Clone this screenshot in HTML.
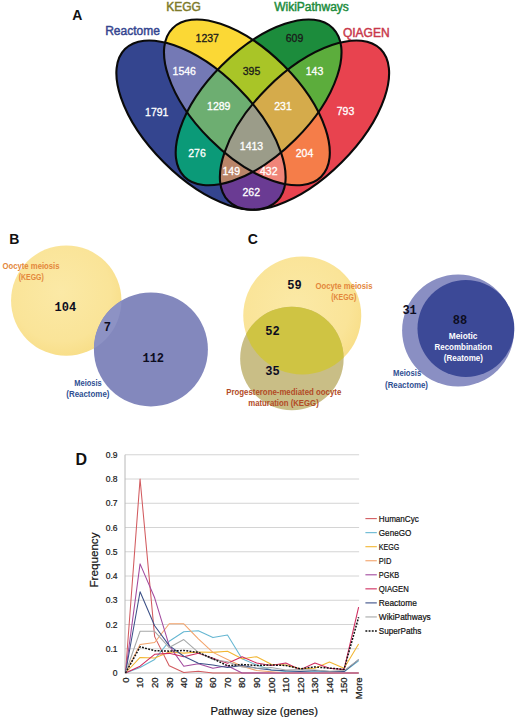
<!DOCTYPE html>
<html lang="en"><head><meta charset="utf-8"><title>Figure</title>
<style>
html,body{margin:0;padding:0;background:#fff;}
body{width:520px;height:720px;overflow:hidden;font-family:"Liberation Sans",sans-serif;}
svg{display:block}
.ss{font-family:"Liberation Sans",sans-serif}
.mono{font-family:"Liberation Mono","DejaVu Sans Mono",monospace;font-weight:bold}
</style></head><body>
<svg width="520" height="720" viewBox="0 0 520 720">
<defs>
<clipPath id="cR"><ellipse cx="201.00" cy="125.1" rx="107.5" ry="52.6" transform="rotate(45 201.00 125.1)" /></clipPath>
<clipPath id="cK"><ellipse cx="246.90" cy="102.4" rx="105" ry="52.2" transform="rotate(45 246.90 102.4)" /></clipPath>
<clipPath id="cW"><ellipse cx="258.60" cy="102.4" rx="105" ry="52.2" transform="rotate(-45 258.60 102.4)" /></clipPath>
<clipPath id="cQ"><ellipse cx="304.50" cy="125.1" rx="107.5" ry="52.6" transform="rotate(-45 304.50 125.1)" /></clipPath>
<radialGradient id="gy" cx="0.45" cy="0.42" r="0.6"><stop offset="0" stop-color="#fbe9a6"/><stop offset="0.75" stop-color="#fae498"/><stop offset="1" stop-color="#f8de88"/></radialGradient>
<clipPath id="cB1"><circle cx="66.25" cy="300.6" r="55.2"/></clipPath>
<clipPath id="cC1"><circle cx="302.25" cy="315.6" r="59"/></clipPath>
</defs>
<rect width="520" height="720" fill="#fff"/>
<g id="panelA">
<ellipse cx="201.00" cy="125.1" rx="107.5" ry="52.6" transform="rotate(45 201.00 125.1)" fill="#34458f"/>
<ellipse cx="246.90" cy="102.4" rx="105" ry="52.2" transform="rotate(45 246.90 102.4)" fill="#fbd835"/>
<ellipse cx="258.60" cy="102.4" rx="105" ry="52.2" transform="rotate(-45 258.60 102.4)" fill="#1c8c3c"/>
<ellipse cx="304.50" cy="125.1" rx="107.5" ry="52.6" transform="rotate(-45 304.50 125.1)" fill="#e8434f"/>
<g clip-path="url(#cR)"><ellipse cx="246.90" cy="102.4" rx="105" ry="52.2" transform="rotate(45 246.90 102.4)" fill="#7479b5"/></g>
<g clip-path="url(#cK)"><ellipse cx="258.60" cy="102.4" rx="105" ry="52.2" transform="rotate(-45 258.60 102.4)" fill="#a9c527"/></g>
<g clip-path="url(#cW)"><ellipse cx="304.50" cy="125.1" rx="107.5" ry="52.6" transform="rotate(-45 304.50 125.1)" fill="#5cad3c"/></g>
<g clip-path="url(#cR)"><ellipse cx="258.60" cy="102.4" rx="105" ry="52.2" transform="rotate(-45 258.60 102.4)" fill="#0b9a78"/></g>
<g clip-path="url(#cK)"><ellipse cx="304.50" cy="125.1" rx="107.5" ry="52.6" transform="rotate(-45 304.50 125.1)" fill="#f57d49"/></g>
<g clip-path="url(#cR)"><ellipse cx="304.50" cy="125.1" rx="107.5" ry="52.6" transform="rotate(-45 304.50 125.1)" fill="#6a3b93"/></g>
<g clip-path="url(#cR)"><g clip-path="url(#cK)"><ellipse cx="258.60" cy="102.4" rx="105" ry="52.2" transform="rotate(-45 258.60 102.4)" fill="#6dae71"/></g></g>
<g clip-path="url(#cK)"><g clip-path="url(#cW)"><ellipse cx="304.50" cy="125.1" rx="107.5" ry="52.6" transform="rotate(-45 304.50 125.1)" fill="#d5ab4b"/></g></g>
<g clip-path="url(#cR)"><g clip-path="url(#cW)"><ellipse cx="304.50" cy="125.1" rx="107.5" ry="52.6" transform="rotate(-45 304.50 125.1)" fill="#b98569"/></g></g>
<g clip-path="url(#cR)"><g clip-path="url(#cK)"><ellipse cx="304.50" cy="125.1" rx="107.5" ry="52.6" transform="rotate(-45 304.50 125.1)" fill="#f08579"/></g></g>
<g clip-path="url(#cR)"><g clip-path="url(#cK)"><g clip-path="url(#cW)"><ellipse cx="304.50" cy="125.1" rx="107.5" ry="52.6" transform="rotate(-45 304.50 125.1)" fill="#9b9c89"/></g></g></g>
<ellipse cx="201.00" cy="125.1" rx="107.5" ry="52.6" transform="rotate(45 201.00 125.1)" fill="none" stroke="#0a0a0a" stroke-width="2.1"/>
<ellipse cx="246.90" cy="102.4" rx="105" ry="52.2" transform="rotate(45 246.90 102.4)" fill="none" stroke="#0a0a0a" stroke-width="2.1"/>
<ellipse cx="258.60" cy="102.4" rx="105" ry="52.2" transform="rotate(-45 258.60 102.4)" fill="none" stroke="#0a0a0a" stroke-width="2.1"/>
<ellipse cx="304.50" cy="125.1" rx="107.5" ry="52.6" transform="rotate(-45 304.50 125.1)" fill="none" stroke="#0a0a0a" stroke-width="2.1"/>
<text class="ss" x="156.75" y="115.55" font-size="10.5" text-anchor="middle" fill="#fff" stroke="#fff" stroke-width="0.3">1791</text>
<text class="ss" x="184.25" y="74.55" font-size="10.5" text-anchor="middle" fill="#fff" stroke="#fff" stroke-width="0.3">1546</text>
<text class="ss" x="207.25" y="42.30" font-size="10.5" text-anchor="middle" fill="#1a1a1a" stroke="#1a1a1a" stroke-width="0.3">1237</text>
<text class="ss" x="251.5" y="74.55" font-size="10.5" text-anchor="middle" fill="#1a1a1a" stroke="#1a1a1a" stroke-width="0.3">395</text>
<text class="ss" x="294.5" y="42.30" font-size="10.5" text-anchor="middle" fill="#1a1a1a" stroke="#1a1a1a" stroke-width="0.3">609</text>
<text class="ss" x="314.5" y="74.55" font-size="10.5" text-anchor="middle" fill="#fff" stroke="#fff" stroke-width="0.3">143</text>
<text class="ss" x="345.5" y="115.05" font-size="10.5" text-anchor="middle" fill="#fff" stroke="#fff" stroke-width="0.3">793</text>
<text class="ss" x="218.75" y="110.05" font-size="10.5" text-anchor="middle" fill="#fff" stroke="#fff" stroke-width="0.3">1289</text>
<text class="ss" x="283" y="110.05" font-size="10.5" text-anchor="middle" fill="#fff" stroke="#fff" stroke-width="0.3">231</text>
<text class="ss" x="251.5" y="149.55" font-size="10.5" text-anchor="middle" fill="#fff" stroke="#fff" stroke-width="0.3">1413</text>
<text class="ss" x="197" y="157.30" font-size="10.5" text-anchor="middle" fill="#fff" stroke="#fff" stroke-width="0.3">276</text>
<text class="ss" x="304.5" y="157.30" font-size="10.5" text-anchor="middle" fill="#fff" stroke="#fff" stroke-width="0.3">204</text>
<text class="ss" x="231.25" y="174.55" font-size="10.5" text-anchor="middle" fill="#fff" stroke="#fff" stroke-width="0.3">149</text>
<text class="ss" x="268.75" y="174.55" font-size="10.5" text-anchor="middle" fill="#fff" stroke="#fff" stroke-width="0.3">432</text>
<text class="ss" x="251.25" y="195.80" font-size="10.5" text-anchor="middle" fill="#fff" stroke="#fff" stroke-width="0.3">262</text>
<text class="ss" x="132.5" y="34.8" font-size="12" text-anchor="middle" fill="#34458f" stroke="#34458f" stroke-width="0.45">Reactome</text>
<text class="ss" x="183.6" y="10.8" font-size="12" text-anchor="middle" fill="#7d7a2a" stroke="#7d7a2a" stroke-width="0.45">KEGG</text>
<text class="ss" x="311.5" y="11.2" font-size="12" text-anchor="middle" fill="#1c8c3c" stroke="#1c8c3c" stroke-width="0.45">WikiPathways</text>
<text class="ss" x="366.25" y="36.6" font-size="12" text-anchor="middle" fill="#c8384a" stroke="#c8384a" stroke-width="0.45">QIAGEN</text>
</g>
<text class="ss" x="72.2" y="20" font-size="14" font-weight="bold" fill="#111">A</text>
<text class="ss" x="9.2" y="243.6" font-size="14" font-weight="bold" fill="#111">B</text>
<text class="ss" x="247.8" y="244.3" font-size="14" font-weight="bold" fill="#111">C</text>
<text class="ss" x="75.4" y="464.6" font-size="16" font-weight="bold" fill="#111">D</text>
<g id="panelB">
<circle cx="66.25" cy="300.6" r="55.2" fill="url(#gy)"/>
<circle cx="150.9" cy="349.4" r="57" fill="#8388bd"/>
<g clip-path="url(#cB1)"><circle cx="150.9" cy="349.4" r="57" fill="#8d92c4"/></g>
<text class="mono" x="65.4" y="310.51" font-size="12" text-anchor="middle" fill="#0d0d1f">104</text>
<text class="mono" x="107.3" y="331.01" font-size="12" text-anchor="middle" fill="#0d0d1f">7</text>
<text class="mono" x="153.25" y="362.26" font-size="12" text-anchor="middle" fill="#0d0d1f">112</text>
<text class="ss" x="2.50" y="268.75" font-size="8.6" font-weight="bold" fill="#e3873b" textLength="57.00" lengthAdjust="spacingAndGlyphs">Oocyte meiosis</text>
<text class="ss" x="18.75" y="280.00" font-size="8.6" font-weight="bold" fill="#e3873b" textLength="25.00" lengthAdjust="spacingAndGlyphs">(KEGG)</text>
<text class="ss" x="74.25" y="386.25" font-size="8.6" font-weight="bold" fill="#2f4f92" textLength="27.50" lengthAdjust="spacingAndGlyphs">Meiosis</text>
<text class="ss" x="66.25" y="396.90" font-size="8.6" font-weight="bold" fill="#2f4f92" textLength="43.25" lengthAdjust="spacingAndGlyphs">(Reactome)</text>
</g>
<g id="panelC">
<circle cx="302.25" cy="315.6" r="59" fill="url(#gy)"/>
<circle cx="291.9" cy="358.4" r="51.75" fill="#c9be86"/>
<g clip-path="url(#cC1)"><circle cx="291.9" cy="358.4" r="51.75" fill="#cfc443"/></g>
<circle cx="458.1" cy="330.6" r="56" fill="#8a8fc3"/>
<circle cx="465.9" cy="328.5" r="48.4" fill="#3c4997"/>
<text class="mono" x="294.4" y="288.96" font-size="12" text-anchor="middle" fill="#0d0d1f">59</text>
<text class="mono" x="272.5" y="335.26" font-size="12" text-anchor="middle" fill="#0d0d1f">52</text>
<text class="mono" x="272.5" y="374.76" font-size="12" text-anchor="middle" fill="#0d0d1f">35</text>
<text class="mono" x="409.6" y="314.26" font-size="12" text-anchor="middle" fill="#0d0d1f">31</text>
<text class="mono" x="460" y="324.26" font-size="12" text-anchor="middle" fill="#0d0d1f">88</text>
<text class="ss" x="315.50" y="288.75" font-size="8.6" font-weight="bold" fill="#e3873b" textLength="57.00" lengthAdjust="spacingAndGlyphs">Oocyte meiosis</text>
<text class="ss" x="331.25" y="299.60" font-size="8.6" font-weight="bold" fill="#e3873b" textLength="25.00" lengthAdjust="spacingAndGlyphs">(KEGG)</text>
<text class="ss" x="226.25" y="395.00" font-size="8.6" font-weight="bold" fill="#b24b26" textLength="115.00" lengthAdjust="spacingAndGlyphs">Progesterone-mediated oocyte</text>
<text class="ss" x="248.25" y="406.25" font-size="8.6" font-weight="bold" fill="#b24b26" textLength="70.50" lengthAdjust="spacingAndGlyphs">maturation (KEGG)</text>
<text class="ss" x="393.00" y="376.25" font-size="8.6" font-weight="bold" fill="#2f4f92" textLength="28.25" lengthAdjust="spacingAndGlyphs">Meiosis</text>
<text class="ss" x="385.00" y="387.50" font-size="8.6" font-weight="bold" fill="#2f4f92" textLength="43.00" lengthAdjust="spacingAndGlyphs">(Reactome)</text>
<text class="ss" x="448.75" y="338.75" font-size="8.6" font-weight="bold" fill="#fff" textLength="28.75" lengthAdjust="spacingAndGlyphs">Meiotic</text>
<text class="ss" x="434.50" y="350.00" font-size="8.6" font-weight="bold" fill="#fff" textLength="57.50" lengthAdjust="spacingAndGlyphs">Recombination</text>
<text class="ss" x="443.75" y="360.60" font-size="8.6" font-weight="bold" fill="#fff" textLength="39.25" lengthAdjust="spacingAndGlyphs">(Reatome)</text>
</g>
<g id="panelD">
<line x1="125.0" x2="359.1" y1="648.75" y2="648.75" stroke="#d4d4d4" stroke-width="1"/>
<line x1="125.0" x2="359.1" y1="624.50" y2="624.50" stroke="#d4d4d4" stroke-width="1"/>
<line x1="125.0" x2="359.1" y1="600.25" y2="600.25" stroke="#d4d4d4" stroke-width="1"/>
<line x1="125.0" x2="359.1" y1="576.00" y2="576.00" stroke="#d4d4d4" stroke-width="1"/>
<line x1="125.0" x2="359.1" y1="551.75" y2="551.75" stroke="#d4d4d4" stroke-width="1"/>
<line x1="125.0" x2="359.1" y1="527.50" y2="527.50" stroke="#d4d4d4" stroke-width="1"/>
<line x1="125.0" x2="359.1" y1="503.25" y2="503.25" stroke="#d4d4d4" stroke-width="1"/>
<line x1="125.0" x2="359.1" y1="479.00" y2="479.00" stroke="#d4d4d4" stroke-width="1"/>
<line x1="125.0" x2="359.1" y1="454.75" y2="454.75" stroke="#d4d4d4" stroke-width="1"/>
<line x1="125.0" x2="125.0" y1="454.75" y2="673.5" stroke="#b8b8b8" stroke-width="1"/>
<line x1="125.0" x2="359.1" y1="673.0" y2="673.0" stroke="#b8b8b8" stroke-width="1"/>
<text class="ss" x="117.6" y="676.10" font-size="8.5" text-anchor="end" fill="#1a1a1a" stroke="#1a1a1a" stroke-width="0.2">0</text>
<text class="ss" x="117.6" y="651.85" font-size="8.5" text-anchor="end" fill="#1a1a1a" stroke="#1a1a1a" stroke-width="0.2">0.1</text>
<text class="ss" x="117.6" y="627.60" font-size="8.5" text-anchor="end" fill="#1a1a1a" stroke="#1a1a1a" stroke-width="0.2">0.2</text>
<text class="ss" x="117.6" y="603.35" font-size="8.5" text-anchor="end" fill="#1a1a1a" stroke="#1a1a1a" stroke-width="0.2">0.3</text>
<text class="ss" x="117.6" y="579.10" font-size="8.5" text-anchor="end" fill="#1a1a1a" stroke="#1a1a1a" stroke-width="0.2">0.4</text>
<text class="ss" x="117.6" y="554.85" font-size="8.5" text-anchor="end" fill="#1a1a1a" stroke="#1a1a1a" stroke-width="0.2">0.5</text>
<text class="ss" x="117.6" y="530.60" font-size="8.5" text-anchor="end" fill="#1a1a1a" stroke="#1a1a1a" stroke-width="0.2">0.6</text>
<text class="ss" x="117.6" y="506.35" font-size="8.5" text-anchor="end" fill="#1a1a1a" stroke="#1a1a1a" stroke-width="0.2">0.7</text>
<text class="ss" x="117.6" y="482.10" font-size="8.5" text-anchor="end" fill="#1a1a1a" stroke="#1a1a1a" stroke-width="0.2">0.8</text>
<text class="ss" x="117.6" y="457.85" font-size="8.5" text-anchor="end" fill="#1a1a1a" stroke="#1a1a1a" stroke-width="0.2">0.9</text>
<text class="ss" transform="translate(128.90 677.3) rotate(-90)" font-size="9.6" text-anchor="end" fill="#1a1a1a" stroke="#1a1a1a" stroke-width="0.25">0</text>
<text class="ss" transform="translate(143.47 677.3) rotate(-90)" font-size="9.6" text-anchor="end" fill="#1a1a1a" stroke="#1a1a1a" stroke-width="0.25">10</text>
<text class="ss" transform="translate(158.04 677.3) rotate(-90)" font-size="9.6" text-anchor="end" fill="#1a1a1a" stroke="#1a1a1a" stroke-width="0.25">20</text>
<text class="ss" transform="translate(172.61 677.3) rotate(-90)" font-size="9.6" text-anchor="end" fill="#1a1a1a" stroke="#1a1a1a" stroke-width="0.25">30</text>
<text class="ss" transform="translate(187.18 677.3) rotate(-90)" font-size="9.6" text-anchor="end" fill="#1a1a1a" stroke="#1a1a1a" stroke-width="0.25">40</text>
<text class="ss" transform="translate(201.75 677.3) rotate(-90)" font-size="9.6" text-anchor="end" fill="#1a1a1a" stroke="#1a1a1a" stroke-width="0.25">50</text>
<text class="ss" transform="translate(216.32 677.3) rotate(-90)" font-size="9.6" text-anchor="end" fill="#1a1a1a" stroke="#1a1a1a" stroke-width="0.25">60</text>
<text class="ss" transform="translate(230.89 677.3) rotate(-90)" font-size="9.6" text-anchor="end" fill="#1a1a1a" stroke="#1a1a1a" stroke-width="0.25">70</text>
<text class="ss" transform="translate(245.46 677.3) rotate(-90)" font-size="9.6" text-anchor="end" fill="#1a1a1a" stroke="#1a1a1a" stroke-width="0.25">80</text>
<text class="ss" transform="translate(260.03 677.3) rotate(-90)" font-size="9.6" text-anchor="end" fill="#1a1a1a" stroke="#1a1a1a" stroke-width="0.25">90</text>
<text class="ss" transform="translate(274.60 677.3) rotate(-90)" font-size="9.6" text-anchor="end" fill="#1a1a1a" stroke="#1a1a1a" stroke-width="0.25">100</text>
<text class="ss" transform="translate(289.17 677.3) rotate(-90)" font-size="9.6" text-anchor="end" fill="#1a1a1a" stroke="#1a1a1a" stroke-width="0.25">110</text>
<text class="ss" transform="translate(303.74 677.3) rotate(-90)" font-size="9.6" text-anchor="end" fill="#1a1a1a" stroke="#1a1a1a" stroke-width="0.25">120</text>
<text class="ss" transform="translate(318.31 677.3) rotate(-90)" font-size="9.6" text-anchor="end" fill="#1a1a1a" stroke="#1a1a1a" stroke-width="0.25">130</text>
<text class="ss" transform="translate(332.88 677.3) rotate(-90)" font-size="9.6" text-anchor="end" fill="#1a1a1a" stroke="#1a1a1a" stroke-width="0.25">140</text>
<text class="ss" transform="translate(347.45 677.3) rotate(-90)" font-size="9.6" text-anchor="end" fill="#1a1a1a" stroke="#1a1a1a" stroke-width="0.25">150</text>
<text class="ss" transform="translate(362.02 677.3) rotate(-90)" font-size="9.6" text-anchor="end" fill="#1a1a1a" stroke="#1a1a1a" stroke-width="0.25">More</text>
<text class="ss" transform="translate(97.6 560) rotate(-90)" font-size="11.5" text-anchor="middle" fill="#111" stroke="#111" stroke-width="0.2" textLength="55" lengthAdjust="spacingAndGlyphs">Frequency</text>
<text class="ss" x="210.4" y="715" font-size="11.4" fill="#111" stroke="#111" stroke-width="0.2" textLength="107.6" lengthAdjust="spacingAndGlyphs">Pathway size (genes)</text>
<polyline points="125.50,673.00 140.07,479.00 154.64,636.62 169.21,665.73 183.78,672.51 198.35,671.30 212.92,673.00 227.49,673.00 242.06,673.00 256.63,673.00 271.20,673.00 285.77,673.00 300.34,673.00 314.91,673.00 329.48,673.00 344.05,673.00 358.62,673.00" fill="none" stroke="#d25b5f" stroke-linejoin="round" stroke-width="1.05"/>
<polyline points="125.50,673.00 140.07,667.42 154.64,659.42 169.21,641.23 183.78,631.77 198.35,630.80 212.92,637.60 227.49,634.93 242.06,658.69 256.63,665.00 271.20,670.09 285.77,671.54 300.34,671.79 314.91,671.79 329.48,671.79 344.05,671.79 358.62,660.88" fill="none" stroke="#66b7d2" stroke-linejoin="round" stroke-width="1.05"/>
<polyline points="125.50,673.00 140.07,657.48 154.64,657.97 169.21,651.90 183.78,653.12 198.35,651.90 212.92,652.39 227.49,651.17 242.06,658.69 256.63,656.75 271.20,664.27 285.77,665.00 300.34,668.76 314.91,668.15 329.48,662.09 344.05,668.15 358.62,643.90" fill="none" stroke="#f2b632" stroke-linejoin="round" stroke-width="1.05"/>
<polyline points="125.50,673.00 140.07,644.51 154.64,642.45 169.21,623.77 183.78,623.77 198.35,638.81 212.92,652.39 227.49,659.42 242.06,666.21 256.63,670.58 271.20,671.79 285.77,673.00 300.34,673.00 314.91,673.00 329.48,673.00 344.05,673.00 358.62,673.00" fill="none" stroke="#f3a36a" stroke-linejoin="round" stroke-width="1.05"/>
<polyline points="125.50,673.00 140.07,563.88 154.64,597.83 169.21,645.60 183.78,666.21 198.35,663.78 212.92,668.15 227.49,665.73 242.06,673.00 256.63,673.00 271.20,673.00 285.77,673.00 300.34,673.00 314.91,673.00 329.48,673.00 344.05,673.00 358.62,673.00" fill="none" stroke="#a24a9e" stroke-linejoin="round" stroke-width="1.05"/>
<polyline points="125.50,673.00 140.07,666.21 154.64,654.33 169.21,653.36 183.78,656.75 198.35,653.36 212.92,658.21 227.49,663.30 242.06,656.75 256.63,663.06 271.20,665.48 285.77,663.06 300.34,669.61 314.91,663.06 329.48,668.15 344.05,669.61 358.62,607.04" fill="none" stroke="#cf2b5e" stroke-linejoin="round" stroke-width="1.05"/>
<polyline points="125.50,673.00 140.07,591.76 154.64,625.71 169.21,645.60 183.78,656.27 198.35,663.30 212.92,665.00 227.49,667.42 242.06,665.48 256.63,668.15 271.20,670.09 285.77,670.82 300.34,671.54 314.91,670.58 329.48,671.54 344.05,671.54 358.62,659.66" fill="none" stroke="#3c5087" stroke-linejoin="round" stroke-width="1.05"/>
<polyline points="125.50,673.00 140.07,631.29 154.64,631.29 169.21,647.54 183.78,639.53 198.35,652.39 212.92,659.42 227.49,661.85 242.06,666.94 256.63,668.15 271.20,667.42 285.77,670.09 300.34,669.61 314.91,670.09 329.48,671.30 344.05,670.58 358.62,659.66" fill="none" stroke="#a6a8a8" stroke-linejoin="round" stroke-width="1.05"/>
<polyline points="125.50,673.00 140.07,646.81 154.64,650.69 169.21,651.17 183.78,650.45 198.35,652.39 212.92,658.69 227.49,665.73 242.06,664.51 256.63,665.48 271.20,665.00 285.77,665.48 300.34,668.76 314.91,666.94 329.48,668.15 344.05,669.36 358.62,617.23" fill="none" stroke="#111" stroke-linejoin="round" stroke-dasharray="1.9 1.3" stroke-width="1.5"/>
<line x1="365.4" x2="376.8" y1="518.60" y2="518.60" stroke="#d25b5f" stroke-width="1.1"/>
<text class="ss" x="378.8" y="521.60" font-size="8.5" fill="#111" stroke="#111" stroke-width="0.2" textLength="40" lengthAdjust="spacingAndGlyphs">HumanCyc</text>
<line x1="365.4" x2="376.8" y1="532.65" y2="532.65" stroke="#66b7d2" stroke-width="1.1"/>
<text class="ss" x="378.8" y="535.65" font-size="8.5" fill="#111" stroke="#111" stroke-width="0.2" textLength="32.5" lengthAdjust="spacingAndGlyphs">GeneGO</text>
<line x1="365.4" x2="376.8" y1="546.70" y2="546.70" stroke="#f2b632" stroke-width="1.1"/>
<text class="ss" x="378.8" y="549.70" font-size="8.5" fill="#111" stroke="#111" stroke-width="0.2" textLength="20.5" lengthAdjust="spacingAndGlyphs">KEGG</text>
<line x1="365.4" x2="376.8" y1="560.75" y2="560.75" stroke="#f3a36a" stroke-width="1.1"/>
<text class="ss" x="378.8" y="563.75" font-size="8.5" fill="#111" stroke="#111" stroke-width="0.2" textLength="12.5" lengthAdjust="spacingAndGlyphs">PID</text>
<line x1="365.4" x2="376.8" y1="574.80" y2="574.80" stroke="#a24a9e" stroke-width="1.1"/>
<text class="ss" x="378.8" y="577.80" font-size="8.5" fill="#111" stroke="#111" stroke-width="0.2" textLength="20.5" lengthAdjust="spacingAndGlyphs">PGKB</text>
<line x1="365.4" x2="376.8" y1="588.85" y2="588.85" stroke="#cf2b5e" stroke-width="1.1"/>
<text class="ss" x="378.8" y="591.85" font-size="8.5" fill="#111" stroke="#111" stroke-width="0.2" textLength="30" lengthAdjust="spacingAndGlyphs">QIAGEN</text>
<line x1="365.4" x2="376.8" y1="602.90" y2="602.90" stroke="#3c5087" stroke-width="1.1"/>
<text class="ss" x="378.8" y="605.90" font-size="8.5" fill="#111" stroke="#111" stroke-width="0.2" textLength="38" lengthAdjust="spacingAndGlyphs">Reactome</text>
<line x1="365.4" x2="376.8" y1="616.95" y2="616.95" stroke="#a6a8a8" stroke-width="1.1"/>
<text class="ss" x="378.8" y="619.95" font-size="8.5" fill="#111" stroke="#111" stroke-width="0.2" textLength="52" lengthAdjust="spacingAndGlyphs">WikiPathways</text>
<line x1="365.4" x2="376.8" y1="631.00" y2="631.00" stroke="#111" stroke-dasharray="1.9 1.3" stroke-width="1.5"/>
<text class="ss" x="378.8" y="634.00" font-size="8.5" fill="#111" stroke="#111" stroke-width="0.2" textLength="42.5" lengthAdjust="spacingAndGlyphs">SuperPaths</text>
</g>
</svg></body></html>
